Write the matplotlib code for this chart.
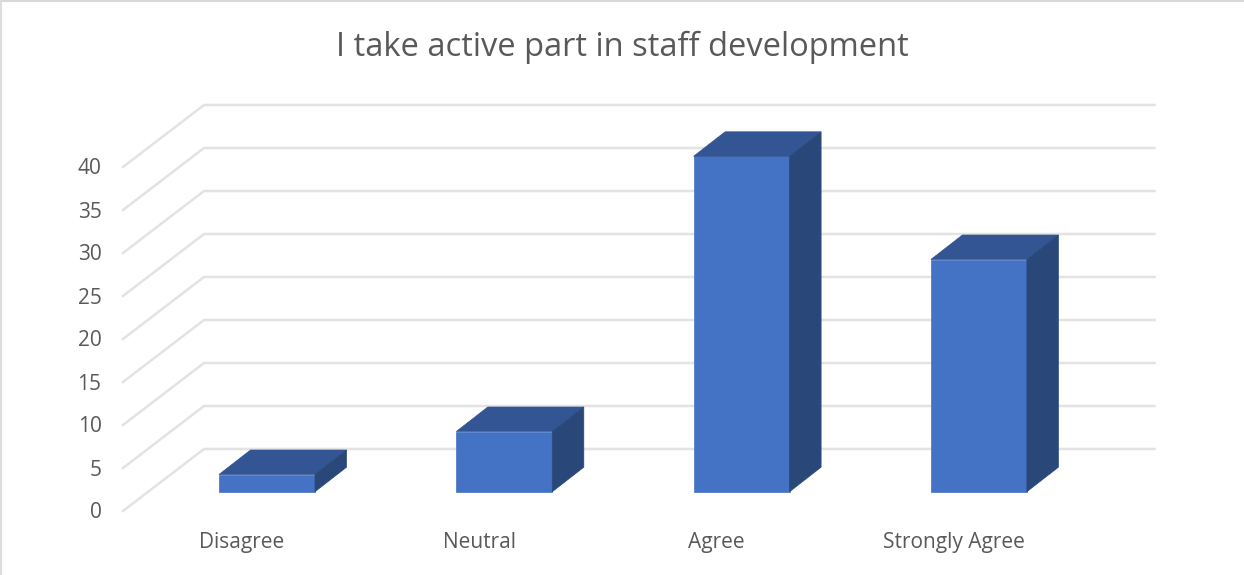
import matplotlib
matplotlib.use('Agg')
import matplotlib.pyplot as plt

categories = ['Disagree', 'Neutral', 'Agree', 'Strongly Agree']
values = [2, 7, 39, 27]
ticks = [0, 5, 10, 15, 20, 25, 30, 35, 40]

plt.rcParams['font.family'] = ['Open Sans', 'DejaVu Sans']

W, H = 1244, 575
#scale of the fake 3d chart, in pixels
x0, xstep = 267, 237.3
y0, ystep = 491.7, 8.6
bar_w = 96 / xstep
#depth of a bar
dx, dy = 31.5 / xstep, 24.5 / ystep
#where the gridlines sit, relative to the bar bases
wall_back = 42.7 / ystep
wall_front = -19.3 / ystep
left_front = (123 - x0) / xstep
left_back = (204 - x0) / xstep
right_back = (1154.5 - x0) / xstep

fig = plt.figure(figsize=(W / 100, H / 100), dpi=100)
ax = fig.add_axes([0, 0, 1, 1])
ax.set_xlim((0 - x0) / xstep, (W - x0) / xstep)
ax.set_ylim((y0 - H) / ystep, y0 / ystep)
ax.axis('off')

#faint frame of the pasted chart, only top and left really show
fig.add_artist(plt.Line2D([0, 1], [0.998, 0.998], color='#D9D9D9', lw=1.5))
fig.add_artist(plt.Line2D([0.001, 0.001], [0, 1], color='#DDDDDD', lw=1.5))

for t in ticks:
    ax.plot([left_front, left_back, right_back],
            [t + wall_front, t + wall_back, t + wall_back],
            color='#E3E3E3', lw=1.8, solid_joinstyle='miter', zorder=1)
    ax.text((101.5 - x0) / xstep, t + wall_front - 2 / ystep, str(t), ha='right', va='center',
            fontsize=15, color='#595959')

for i, (c, v) in enumerate(zip(categories, values)):
    l = i - bar_w / 2
    r = i + bar_w / 2
    ax.bar(i, v, width=bar_w, color='#4472C4', edgecolor='#4472C4', lw=0.5, zorder=3)
    ax.fill([l, r, r + dx, l + dx], [v, v, v + dy, v + dy],
            facecolor='#335593', edgecolor='#335593', lw=0.5, zorder=3)
    ax.fill([r, r + dx, r + dx, r], [0, dy, v + dy, v],
            facecolor='#2A4779', edgecolor='#2A4779', lw=0.5, zorder=4)
    ax.text(i - 0.105, -51 / ystep, c, ha='center', va='center',
            fontsize=15, color='#595959')

ax.text((622.5 - x0) / xstep, (y0 - 47) / ystep, 'I take active part in staff development',
        ha='center', va='center', fontsize=23.5, color='#595959')

fig.savefig('out.png', dpi=100)
